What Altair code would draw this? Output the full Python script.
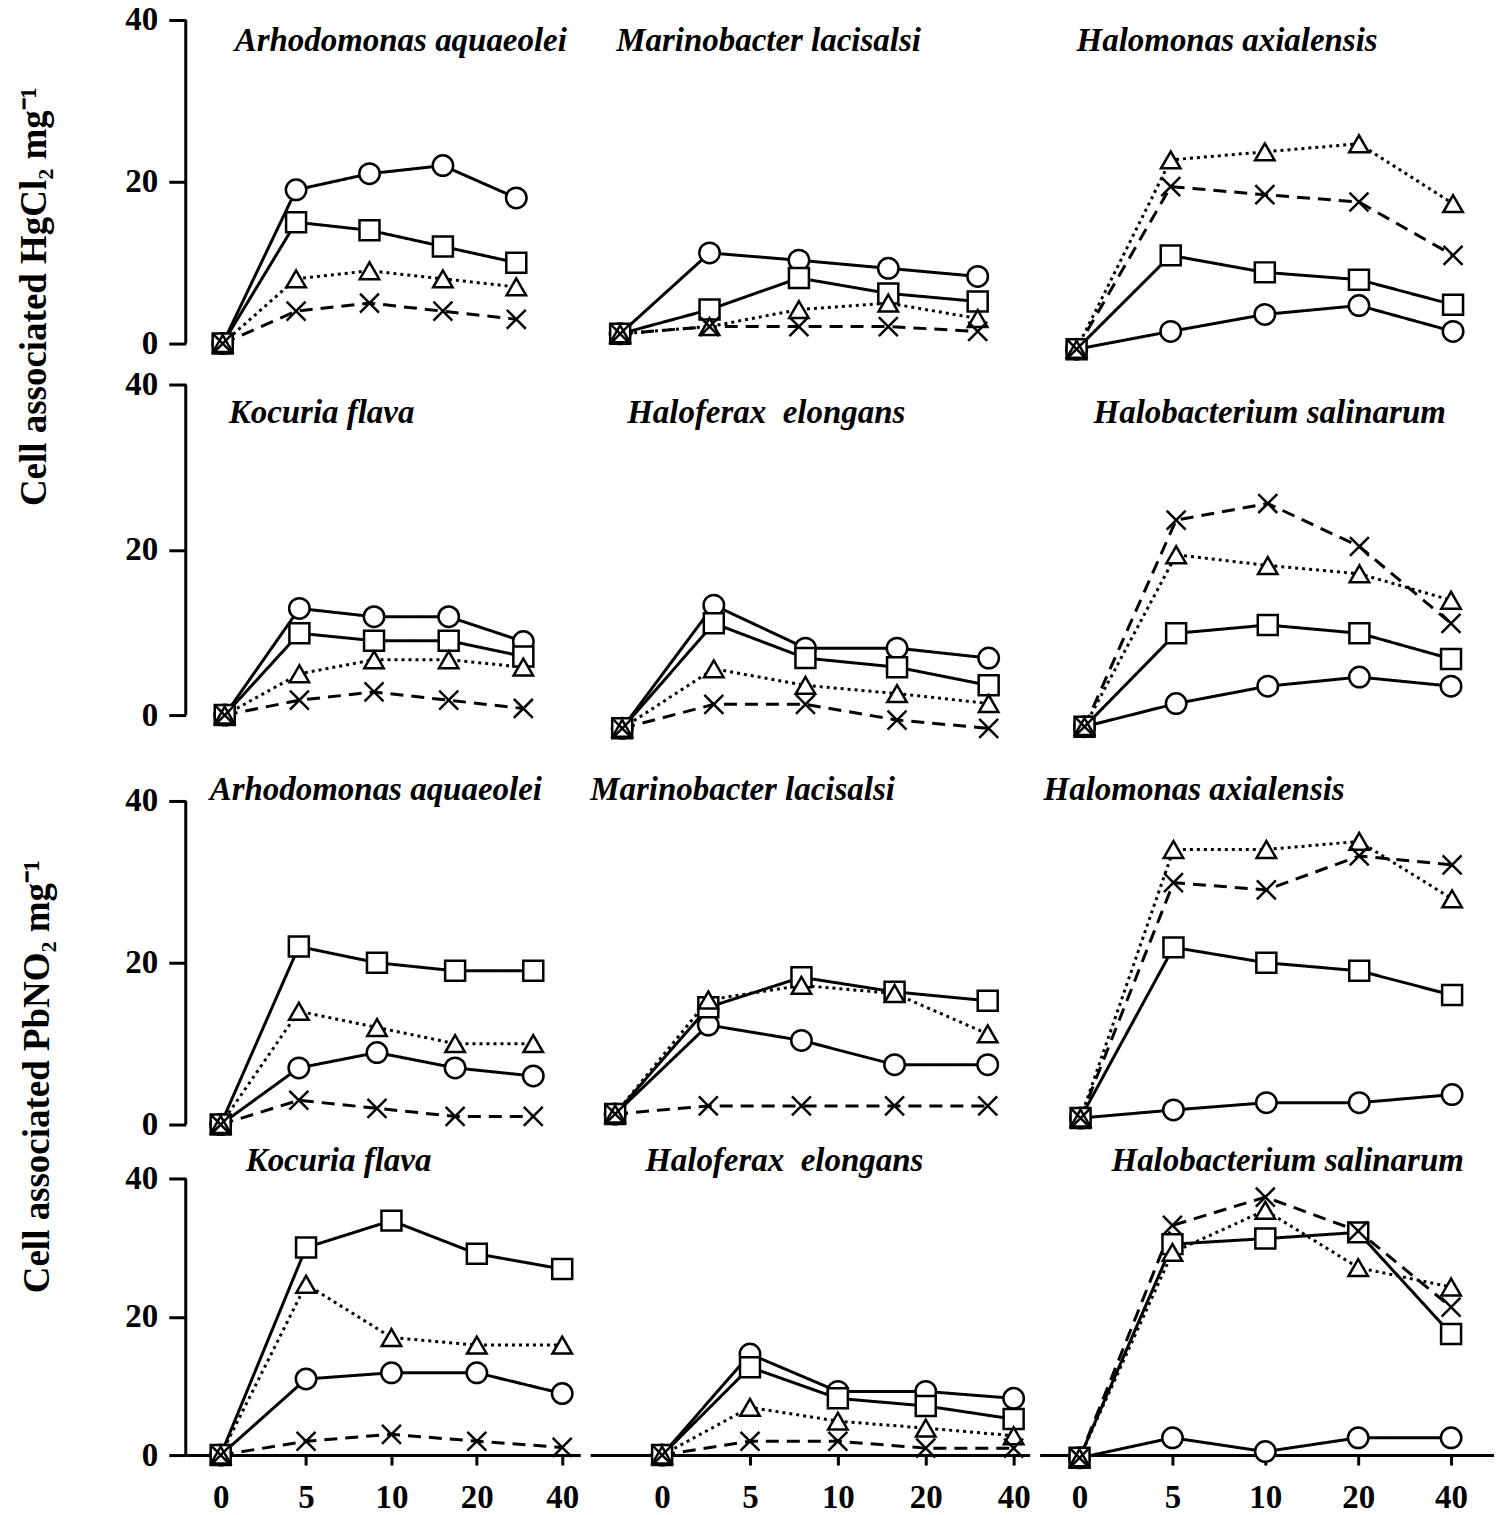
import json
import altair as alt
import pandas as pd

# ---------------- data ----------------
TIMES = ["0", "5", "10", "20", "40"]
SERIES = ["circle", "square", "triangle", "cross"]

SPECIES_A = ["Arhodomonas aquaeolei", "Marinobacter lacisalsi", "Halomonas axialensis"]
SPECIES_B = ["Kocuria flava", "Haloferax \u00a0elongans", "Halobacterium salinarum"]

Y_TITLE_HG = "Cell associated HgCl\u2082 mg\u207b\u00b9"
Y_TITLE_PB = "Cell associated PbNO\u2082 mg\u207b\u00b9"

# each panel: circle, square, triangle, cross series over TIMES
HG_ARHODOMONAS = [[0, 19, 21, 22, 18], [0, 15, 14, 12, 10], [0, 8, 9, 8, 7], [0, 4, 5, 4, 3]]
HG_MARINOBACTER = [[1.2, 11.2, 10.3, 9.3, 8.3], [1.2, 4.2, 8.1, 6.2, 5.2],
                   [1.2, 2.1, 4.2, 5.0, 3.1], [1.2, 2.1, 2.1, 2.1, 1.5]]
HG_HALOMONAS = [[-0.7, 1.5, 3.6, 4.7, 1.5], [-0.7, 10.9, 8.8, 7.9, 4.8],
                [-0.7, 22.7, 23.7, 24.7, 17.3], [-0.7, 19.4, 18.4, 17.5, 10.9]]
HG_KOCURIA = [[0, 12.9, 11.9, 11.9, 8.9], [0, 9.9, 9.0, 9.0, 7.1],
              [0, 5.0, 6.7, 6.7, 5.8], [0, 1.8, 2.8, 1.8, 0.8]]
HG_HALOFERAX = [[-1.6, 13.3, 8.1, 8.1, 6.9], [-1.6, 11.1, 6.9, 5.8, 3.6],
                [-1.6, 5.6, 3.6, 2.6, 1.4], [-1.6, 1.3, 1.3, -0.6, -1.6]]
HG_HALOBACTERIUM = [[-1.4, 1.4, 3.5, 4.6, 3.5], [-1.4, 9.9, 10.9, 9.9, 6.8],
                    [-1.4, 19.4, 18.1, 17.1, 13.9], [-1.4, 23.6, 25.6, 20.4, 11.1]]
PB_ARHODOMONAS = [[0, 7.0, 8.9, 7.0, 6.0], [0, 22.0, 20.0, 19.0, 19.0],
                  [0, 14.0, 12.0, 10.0, 10.0], [0, 3.0, 2.0, 1.0, 1.0]]
PB_MARINOBACTER = [[1.3, 12.3, 10.4, 7.4, 7.4], [1.3, 14.5, 18.2, 16.4, 15.3],
                   [1.3, 15.4, 17.2, 16.2, 11.2], [1.3, 2.3, 2.3, 2.3, 2.3]]
PB_HALOMONAS = [[0.8, 1.8, 2.7, 2.7, 3.7], [0.8, 21.9, 20.0, 19.0, 16.0],
                [0.8, 34.0, 34.0, 35.0, 27.9], [0.8, 29.9, 29.0, 33.2, 32.1]]
PB_KOCURIA = [[0, 11.0, 11.9, 11.9, 8.9], [0, 30.0, 33.9, 29.1, 26.9],
              [0, 24.7, 17.0, 15.9, 15.9], [0, 2.0, 3.0, 2.0, 1.1]]
PB_HALOFERAX = [[0, 14.6, 9.2, 9.2, 8.2], [0, 12.7, 8.2, 7.1, 5.2],
                [0, 6.9, 4.9, 3.9, 2.8], [0, 2.0, 2.0, 1.0, 1.0]]
PB_HALOBACTERIUM = [[-0.4, 2.5, 0.5, 2.5, 2.5], [-0.4, 30.5, 31.3, 32.2, 17.5],
                    [-0.4, 29.3, 35.4, 27.1, 24.3], [-0.4, 33.2, 37.3, 32.4, 21.4]]

PANELS = [
    [HG_ARHODOMONAS, HG_MARINOBACTER, HG_HALOMONAS],
    [HG_KOCURIA, HG_HALOFERAX, HG_HALOBACTERIUM],
    [PB_ARHODOMONAS, PB_MARINOBACTER, PB_HALOMONAS],
    [PB_KOCURIA, PB_HALOFERAX, PB_HALOBACTERIUM],
]
NAMES = [SPECIES_A, SPECIES_B, SPECIES_A, SPECIES_B]

# ---------------- layout / style ----------------
FONT = "Liberation Serif"
COL_W = [395, 440, 455]
ROW_H = [355, 407, 368, 277]
Y_MIN = [-3.83, -9.18, -5.43, 0]
X_DOM = [
    [(-0.503, 4.871), (-0.335, 4.581), (-0.393, 4.435)],
    [(-0.522, 4.762), (-0.349, 4.447), (-0.490, 4.469)],
    [(-0.447, 4.601), (-0.268, 4.450), (-0.441, 4.451)],
    [(-0.409, 4.211), (-0.818, 4.182), (-0.430, 4.462)],
]
TITLE_POS = [
    [(49, 21), (26, 21), (37, 21)],
    [(43, 29), (37, 29), (54, 29)],
    [(24, -11), (0, -11), (4, -11)],
    [(60, -17), (55, -17), (72, -17)],
]
DASHES = [[1, 0], [1, 0], [3, 4], [13, 8]]
SHAPES = ["circle", "square", "triangle-up", "M-1,-1L1,1M1,-1L-1,1"]
SIZES = [420, 360, 350, 310]
SWIDTH = [2.5, 2.5, 2.5, 3]

label_expr = json.dumps(TIMES) + "[datum.value]"


def make_panel(r, c):
    rows = []
    for s, vals in zip(SERIES, PANELS[r][c]):
        for i, v in enumerate(vals):
            rows.append({"t": i, "v": v, "s": s})
    df = pd.DataFrame(rows)

    if r == 3:
        xaxis = alt.Axis(values=list(range(len(TIMES))), labelExpr=label_expr, title=None,
                         tickSize=10, labelPadding=17, grid=False)
    else:
        xaxis = None
    if c == 0:
        yaxis = alt.Axis(values=[0, 20, 40], title=None, domain=False, tickSize=17,
                         labelPadding=11, grid=False, format="d")
    else:
        yaxis = None

    xs = alt.Scale(domain=list(X_DOM[r][c]), nice=False, zero=False)
    ysc = alt.Scale(domain=[Y_MIN[r], 40], nice=False, zero=False)
    X = alt.X("t:Q", scale=xs, axis=xaxis)
    Y = alt.Y("v:Q", scale=ysc, axis=yaxis)

    lines = alt.Chart(df).mark_line(color="black", strokeWidth=3).encode(
        x=X, y=Y,
        strokeDash=alt.StrokeDash("s:N", scale=alt.Scale(domain=SERIES, range=DASHES), legend=None),
    )
    points = alt.Chart(df).mark_point(filled=True, fill="white", stroke="black", opacity=1).encode(
        x=X, y=Y,
        shape=alt.Shape("s:N", scale=alt.Scale(domain=SERIES, range=SHAPES), legend=None),
        size=alt.Size("s:N", scale=alt.Scale(domain=SERIES, range=SIZES), legend=None),
        strokeWidth=alt.StrokeWidth("s:N", scale=alt.Scale(domain=SERIES, range=SWIDTH), legend=None),
    )
    dx, dy = TITLE_POS[r][c]
    title = alt.Chart(pd.DataFrame({"label": [NAMES[r][c]]})).mark_text(
        font=FONT, fontSize=33, fontStyle="italic", fontWeight="bold", color="black",
        align="left", baseline="middle",
    ).encode(text="label:N", x=alt.value(dx), y=alt.value(dy))

    layers = [lines, points, title]
    if c == 0:
        rule = alt.Chart(pd.DataFrame({"lo": [0], "hi": [40]})).mark_rule(
            color="black", strokeWidth=3
        ).encode(x=alt.value(0), y=alt.Y("lo:Q", scale=ysc, axis=yaxis), y2="hi:Q")
        layers.insert(0, rule)
        if r in (0, 2):
            ttl = Y_TITLE_HG if r == 0 else Y_TITLE_PB
            ty = alt.Chart(pd.DataFrame({"label": [ttl]})).mark_text(
                font=FONT, fontSize=37, fontWeight="bold", color="black", angle=270,
                align="center", baseline="middle",
            ).encode(text="label:N", x=alt.value(-151 if r == 0 else -148),
                     y=alt.value(277 if r == 0 else 276))
            layers.append(ty)
    return alt.layer(*layers).properties(width=COL_W[c], height=ROW_H[r])


panels = [make_panel(r, c) for r in range(4) for c in range(3)]

chart = alt.concat(*panels, columns=3, spacing=10, bounds="flush").properties(
    padding={"left": 8, "top": -5, "right": 0, "bottom": 0}
).configure_view(stroke=None).configure_axis(
    labelFont=FONT, labelFontSize=33, labelFontWeight="bold", labelColor="black",
    tickColor="black", domainColor="black", tickWidth=3, domainWidth=3,
)

chart.save("out.html", embed_options={"renderer": "svg", "actions": False})
